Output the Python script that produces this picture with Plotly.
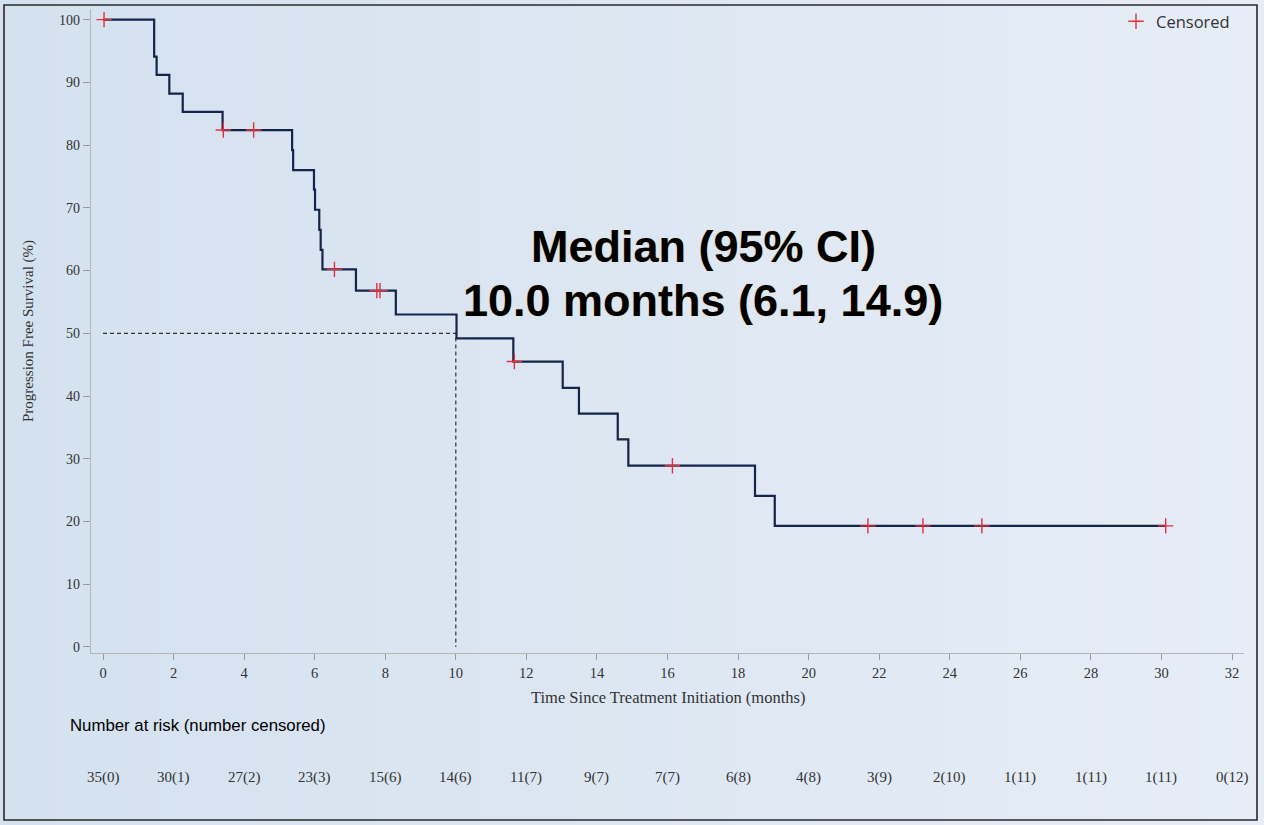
import plotly.graph_objects as go

# ---- data ----
step_times = [0, 1.45, 1.52, 1.88, 2.26, 3.39, 5.36, 5.39, 5.98, 6.01, 6.13, 6.17, 6.22,
              7.17, 8.30, 10.02, 11.63, 13.03, 13.49, 14.59, 14.89, 18.48, 19.04, 30.12]
step_surv = [100, 94.1, 91.2, 88.2, 85.3, 82.4, 79.2, 76.0, 72.9, 69.7, 66.5, 63.3, 60.2,
             56.8, 53.0, 49.2, 45.5, 41.3, 37.2, 33.1, 28.9, 24.1, 19.3, 19.3]
cens_times = [0.03, 3.41, 4.27, 6.56, 7.76, 7.85, 11.66, 16.14, 21.68, 23.24, 24.91, 30.12]
cens_surv = [100, 82.4, 82.4, 60.2, 56.8, 56.8, 45.5, 28.9, 19.3, 19.3, 19.3, 19.3]
median_time = 10.0
median_level = 50
risk_times = list(range(0, 33, 2))
risk_labels = ["35(0)", "30(1)", "27(2)", "23(3)", "15(6)", "14(6)", "11(7)", "9(7)", "7(7)",
               "6(8)", "4(8)", "3(9)", "2(10)", "1(11)", "1(11)", "1(11)", "0(12)"]
x_ticks = list(range(0, 33, 2))
y_ticks = list(range(0, 101, 10))

# ---- layout geometry (pixels) ----
W, H = 1264, 825
L, R, T, B = 91, 1244, 9, 653
PW, PH = R - L, B - T


def px(p):
    return (p - L) / PW


def py(q):
    return (B - q) / PH


SERIF = "Liberation Serif, Times New Roman, serif"
SANS = "Liberation Sans, Arial, sans-serif"

fig = go.Figure()

# median reference lines
fig.add_trace(go.Scatter(x=[0, median_time, median_time], y=[median_level, median_level, 0],
                         mode="lines", line=dict(color="#333333", width=1.2, dash="4px,3px"),
                         showlegend=False, hoverinfo="skip"))
# KM step curve
fig.add_trace(go.Scatter(x=step_times, y=step_surv, mode="lines", line_shape="hv",
                         line=dict(color="#14244a", width=2.2), showlegend=False))
# censored marks
fig.add_trace(go.Scatter(x=cens_times, y=cens_surv, mode="markers", name="Censored",
                         marker=dict(symbol="cross-thin", size=11,
                                     line=dict(color="#e8303c", width=1.4))))

shapes = []
# gradient background strips
n = 64
c0 = (212, 225, 239)
c1 = (230, 237, 246)
for i in range(n):
    f = i / (n - 1)
    col = "rgb(%d,%d,%d)" % tuple(round(a + (b - a) * f) for a, b in zip(c0, c1))
    x0 = W * i / n
    x1 = W * (i + 1) / n + 1
    shapes.append(dict(type="rect", xref="paper", yref="paper", x0=px(x0), x1=px(x1),
                       y0=py(H), y1=py(0), fillcolor=col, line=dict(width=0), layer="below"))
# outer border
shapes.append(dict(type="rect", xref="paper", yref="paper", x0=px(4), x1=px(1257),
                   y0=py(820), y1=py(5), line=dict(color="#2a2a2a", width=1.6),
                   fillcolor="rgba(0,0,0,0)", layer="below"))

big_font = dict(family=SANS, size=45, color="#000000", weight="bold",
                shadow="0px 0px 1px rgba(210,140,0,0.55)")
annotations = []
annotations.append(dict(text="Median (95% CI)", x=px(703), y=py(246), xref="paper", yref="paper",
                        showarrow=False, xanchor="center", yanchor="middle", font=big_font))
annotations.append(dict(text="10.0 months (6.1, 14.9)", x=px(703), y=py(300), xref="paper",
                        yref="paper", showarrow=False, xanchor="center", yanchor="middle",
                        font=big_font))
annotations.append(dict(text="Time Since Treatment Initiation (months)", x=0.5, y=py(697),
                        xref="paper", yref="paper", showarrow=False, xanchor="center",
                        yanchor="middle", font=dict(family=SERIF, size=16.5, color="#333333")))
annotations.append(dict(text="Progression Free Survival (%)", x=px(28), y=py(331),
                        xref="paper", yref="paper", showarrow=False, textangle=-90,
                        xanchor="center", yanchor="middle",
                        font=dict(family=SERIF, size=15, color="#333333")))
annotations.append(dict(text="Number at risk (number censored)", x=px(68), y=py(725),
                        xref="paper", yref="paper", showarrow=False, xanchor="left",
                        yanchor="middle", font=dict(family=SANS, size=16.8, color="#000000")))
for t, lab in zip(risk_times, risk_labels):
    annotations.append(dict(text=lab, x=t, y=py(777), xref="x", yref="paper", showarrow=False,
                            xanchor="center", yanchor="middle",
                            font=dict(family=SERIF, size=15, color="#333333")))

fig.update_layout(
    width=W, height=H,
    margin=dict(l=L, r=W - R, t=T, b=H - B, autoexpand=False),
    paper_bgcolor="#dde6f1", plot_bgcolor="rgba(0,0,0,0)",
    shapes=shapes, annotations=annotations,
    legend=dict(x=px(1116), y=py(4), xanchor="left", yanchor="top",
                bgcolor="rgba(0,0,0,0)", font=dict(family="Open Sans, sans-serif", size=16.5,
                                                   color="#333333"),
                itemwidth=30),
    xaxis=dict(range=[-0.34, 32.34], tickvals=x_ticks, ticks="outside", ticklen=6,
               tickcolor="#9a9a9a", showline=True, linecolor="#b5b5b5", linewidth=1.2,
               showgrid=False, zeroline=False,
               tickfont=dict(family=SERIF, size=14.5, color="#333333")),
    yaxis=dict(range=[-0.96, 101.7], tickvals=y_ticks, ticks="outside", ticklen=7,
               tickcolor="#9a9a9a", showline=True, linecolor="#b5b5b5", linewidth=1.2,
               showgrid=False, zeroline=False,
               tickfont=dict(family=SERIF, size=14, color="#333333")),
)

fig.write_html("out.html", config={"displayModeBar": False},
               post_script="document.body.style.margin='0';document.body.style.overflow='hidden';")
